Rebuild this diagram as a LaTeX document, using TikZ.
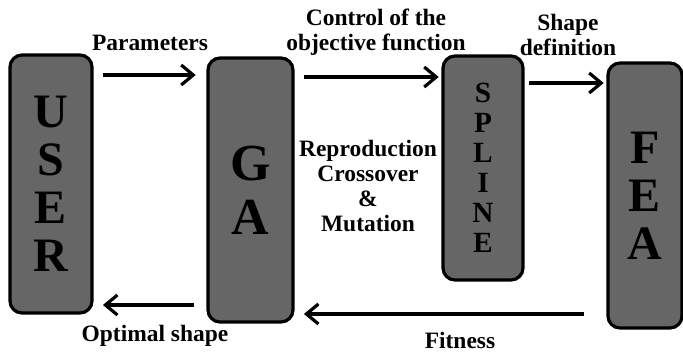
\documentclass[tikz,border=0pt]{standalone}
\usepackage{fontspec}
\setmainfont{Liberation Serif}
\usepackage{tikz}
\usetikzlibrary{arrows.meta,positioning,calc}

\begin{document}
\begin{tikzpicture}[
  x=0.75pt,
  y=-0.75pt,
  font=\bfseries\fontsize{17.6}{18.8}\selectfont,
  block/.style={
    rectangle,
    draw=black,
    fill=black!60,
    line width=2.4pt,
    rounded corners=9pt,
    inner sep=0pt,
    align=center,
    text=black
  },
  label/.style={align=center,inner sep=0pt},
  flow/.style={
    -{Straight Barb[length=9pt,width=15pt,line width=2.4pt]},
    line width=3.6pt,
    draw=black
  }
]
\useasboundingbox (0,0) rectangle (683,355);

% Process blocks.
\node[block,minimum width=61.5pt,minimum height=193.5pt,
  font=\bfseries\fontsize{36}{36}\selectfont] (user) at (51,184) {U\\S\\E\\R};
\node[block,minimum width=63.75pt,minimum height=198pt,
  font=\bfseries\fontsize{39}{40.5}\selectfont] (ga) at (250.5,190) {G\\A};
\node[block,minimum width=60pt,minimum height=168pt,
  font=\bfseries\fontsize{22}{22.5}\selectfont] (spline) at (483,168) {S\\P\\L\\I\\N\\E};
\node[block,minimum width=55.5pt,minimum height=198.75pt,
  font=\bfseries\fontsize{36}{36}\selectfont] (fea) at (645,195.5) {F\\E\\A};

% Forward flow.
\draw[flow,shorten <=7pt,shorten >=8pt] (user.east |- 0,75) -- (ga.west |- 0,75);
\draw[flow,shorten <=7pt,shorten >=2pt] (ga.east |- 0,77) -- (spline.west |- 0,77);
\draw[flow,shorten <=3pt,shorten >=2pt] (spline.east |- 0,83) -- (fea.west |- 0,83);

% Feedback.
\draw[flow,shorten <=17pt,shorten >=7pt] (fea.west |- 0,314) -- (ga.east |- 0,314);
\draw[flow,shorten <=9pt,shorten >=7pt] (ga.west |- 0,305) -- (user.east |- 0,305);

% Labels.
\node[label] (param) at (150,43) {Parameters};
\node[label] (control) at (376,32) {Control of the\\objective function};
\node[label] (shapedef) at (568,35) {Shape\\definition};
\node[label] (ops) at (368,186) {Reproduction\\Crossover\\\&\\Mutation};
\node[label] (fitness) at (460,340) {Fitness};
\node[label] (optimal) at (155,336) {Optimal shape};

\end{tikzpicture}
\end{document}
